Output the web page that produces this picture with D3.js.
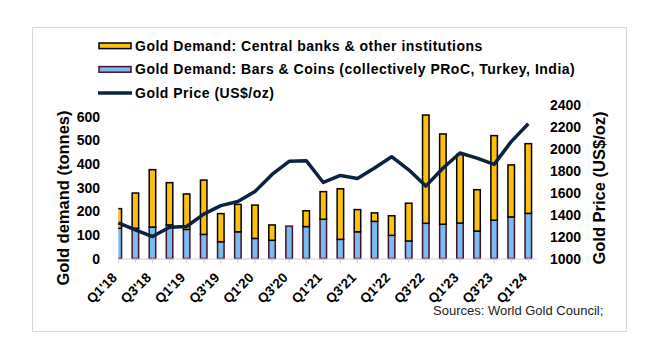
<!DOCTYPE html>
<html>
<head>
<meta charset="utf-8">
<script src="https://cdn.jsdelivr.net/npm/d3@7"></script>
<style>
  body { margin: 0; background: #fff; }
  text { font-family: Arial, "Liberation Sans", sans-serif; }
</style>
</head>
<body>
<div id="canvas"></div>
<script>
(function(d3){

  var quarters = ["Q1'18","Q2'18","Q3'18","Q4'18","Q1'19","Q2'19","Q3'19","Q4'19",
                  "Q1'20","Q2'20","Q3'20","Q4'20","Q1'21","Q2'21","Q3'21","Q4'21",
                  "Q1'22","Q2'22","Q3'22","Q4'22","Q1'23","Q2'23","Q3'23","Q4'23","Q1'24"],
      barsCoins = [128,128,133,142,123,102,71,113,85,77,137,135,166,81,113,157,98,74,149,145,150,116,162,176,191],
      centralBanks = [83,149,243,179,150,230,119,116,141,65,0,67,117,214,94,36,83,160,458,382,290,175,358,220,295],
      goldPrice = [1325,1262,1200,1285,1292,1405,1482,1520,1610,1766,1886,1892,1693,1757,1730,1825,1928,1808,1660,1822,1962,1915,1858,2065,2228],
      leftTicks = [0,100,200,300,400,500,600],
      rightTicks = [1000,1200,1400,1600,1800,2000,2200,2400],
      seriesNames = ['Gold Demand: Central banks & other institutions',
                     'Gold Demand: Bars & Coins (collectively PRoC, Turkey, India)',
                     'Gold Price (US$/oz)'];

  var canvas_d = {width: 660, height: 361},
      plot = {left: 118.3, right: 528.3, top: 104.9, bottom: 258.5},
      colors = {orange: '#fdc010', blue: '#78bdf2', blueEdge: '#4a0f2a', line: '#0b2342'},
      bw = 6.5,
      canvas, x, yL, yR, stacked;

  canvas = d3.select('#canvas').append('svg')
      .attr('width', canvas_d.width)
      .attr('height', canvas_d.height);

  // outer frame
  canvas.append('rect')
      .attr('x', 32.5).attr('y', 27.5)
      .attr('width', 594).attr('height', 304)
      .attr('fill', '#fff').attr('stroke', '#d9d9d9');

  x = d3.scalePoint().domain(quarters).range([plot.left, plot.right]);
  yL = d3.scaleLinear().domain([0, 650]).range([plot.bottom, plot.top]);
  yR = d3.scaleLinear().domain([1000, 2400]).range([plot.bottom, plot.top]);

  // first category sits on the axis edge, so its bar is cut in half
  canvas.append('clipPath').attr('id', 'clip')
    .append('rect')
      .attr('x', plot.left).attr('y', 0)
      .attr('width', 430).attr('height', plot.bottom + 2);

  /**
   * Bars (blue at the bottom, orange stacked on top)
   */
  stacked = quarters.map(function(q, i){
    return {q: q, bc: barsCoins[i], cb: centralBanks[i]};
  });

  var bars = canvas.append('g').attr('clip-path', 'url(#clip)');

  bars.selectAll('rect.bc')
      .data(stacked)
    .enter().append('rect')
      .attr('class', 'bc')
      .attr('x', function(d){ return x(d.q) - bw / 2; })
      .attr('y', function(d){ return yL(d.bc); })
      .attr('width', bw)
      .attr('height', function(d){ return yL(0) - yL(d.bc); })
      .attr('fill', colors.blue)
      .attr('stroke', colors.blueEdge)
      .attr('stroke-width', 1.5);

  bars.selectAll('rect.cb')
      .data(stacked.filter(function(d){ return d.cb > 0; }))
    .enter().append('rect')
      .attr('class', 'cb')
      .attr('x', function(d){ return x(d.q) - bw / 2; })
      .attr('y', function(d){ return yL(d.bc + d.cb); })
      .attr('width', bw)
      .attr('height', function(d){ return yL(d.bc) - yL(d.bc + d.cb); })
      .attr('fill', colors.orange)
      .attr('stroke', '#000')
      .attr('stroke-width', 1.5);

  /**
   * X axis
   */
  canvas.append('line')
      .attr('x1', plot.left).attr('x2', 537)
      .attr('y1', plot.bottom + 0.5).attr('y2', plot.bottom + 0.5)
      .attr('stroke', '#d0d0d0');

  canvas.append('g').selectAll('line')
      .data(quarters)
    .enter().append('line')
      .attr('x1', function(d){ return x(d); })
      .attr('x2', function(d){ return x(d); })
      .attr('y1', plot.bottom).attr('y2', plot.bottom + 4.5)
      .attr('stroke', '#d0d0d0');

  canvas.append('g').selectAll('text')
      .data(quarters.filter(function(d, i){ return i % 2 === 0; }))
    .enter().append('text')
      .attr('transform', function(d){ return 'translate(' + (x(d) - 0.5) + ',278.5) rotate(-45)'; })
      .attr('text-anchor', 'end')
      .attr('font-size', 13.5)
      .attr('font-weight', 'bold')
      .text(function(d){ return d; });

  /**
   * Y axes
   */
  canvas.append('g').selectAll('text')
      .data(leftTicks)
    .enter().append('text')
      .attr('x', 100)
      .attr('y', function(d){ return yL(d); })
      .attr('dy', '0.36em')
      .attr('text-anchor', 'end')
      .attr('font-size', 14)
      .attr('font-weight', 'bold')
      .text(function(d){ return d; });

  canvas.append('g').selectAll('text')
      .data(rightTicks)
    .enter().append('text')
      .attr('x', 550)
      .attr('y', function(d){ return yR(d); })
      .attr('dy', '0.36em')
      .attr('font-size', 14)
      .attr('font-weight', 'bold')
      .text(function(d){ return d; });

  canvas.append('text')
      .attr('transform', 'translate(63,198) rotate(-90)')
      .attr('dy', '0.36em')
      .attr('text-anchor', 'middle')
      .attr('font-size', 16.5)
      .attr('font-weight', 'bold')
      .text('Gold demand (tonnes)');

  canvas.append('text')
      .attr('transform', 'translate(599,188) rotate(-90)')
      .attr('dy', '0.36em')
      .attr('text-anchor', 'middle')
      .attr('font-size', 16.5)
      .attr('font-weight', 'bold')
      .text('Gold Price (US$/oz)');

  /**
   * Price line
   */
  canvas.append('path')
      .datum(goldPrice)
      .attr('fill', 'none')
      .attr('stroke', colors.line)
      .attr('stroke-width', 3.5)
      .attr('stroke-linejoin', 'round')
      .attr('d', d3.line()
        .x(function(d, i){ return x(quarters[i]); })
        .y(function(d){ return yR(d); }));

  /**
   * Legend
   */
  var legend = canvas.append('g');
  seriesNames.forEach(function(name, i){
    var cy = 45.8 + i * 23.6;
    if (i < 2) {
      legend.append('rect')
          .attr('x', 99).attr('y', cy - 2.8)
          .attr('width', 32).attr('height', 5.6)
          .attr('fill', i === 0 ? colors.orange : colors.blue)
          .attr('stroke', i === 0 ? '#000' : colors.blueEdge)
          .attr('stroke-width', 1.5);
    } else {
      legend.append('line')
          .attr('x1', 98).attr('x2', 132)
          .attr('y1', cy).attr('y2', cy)
          .attr('stroke', colors.line)
          .attr('stroke-width', 3.5);
    }
    legend.append('text')
        .attr('x', 135).attr('y', cy)
        .attr('dy', '0.36em')
        .attr('font-size', 14)
        .attr('font-weight', 'bold')
        .attr('letter-spacing', 0.5)
        .text(name);
  });

  canvas.append('text')
      .attr('x', 433).attr('y', 315)
      .attr('font-size', 13)
      .attr('fill', '#222')
      .text('Sources: World Gold Council;');

})(d3);
</script>
</body>
</html>
